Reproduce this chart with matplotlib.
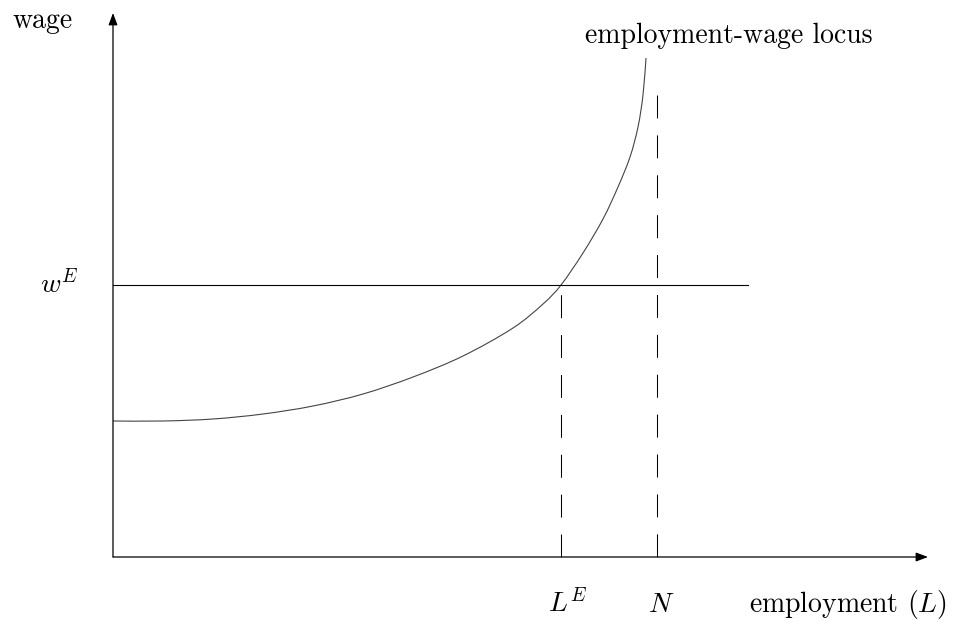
import matplotlib
matplotlib.use('Agg')
import matplotlib.pyplot as plt
from matplotlib.path import Path
from matplotlib.patches import PathPatch

plt.rcParams['mathtext.fontset'] = 'cm'

# employment-wage locus (employment, wage)
locus_L = [0.0, 0.5, 1.0, 1.5, 2.0, 2.5, 3.0, 3.5, 4.0, 4.3,
           4.48, 4.7, 4.9, 5.05, 5.17, 5.25, 5.30, 5.33]
locus_w = [1.36, 1.36, 1.38, 1.43, 1.51, 1.63, 1.80, 2.01, 2.29, 2.53,
           2.72, 3.04, 3.38, 3.70, 4.00, 4.30, 4.62, 4.99]

w_E = 2.72      # equilibrium wage
L_E = 4.48      # equilibrium employment
N = 5.44        # labour force
N_top = 4.62
wage_line_end = 6.35
x_max = 8.15
y_max = 5.44

fig = plt.figure(figsize=(9.56, 6.24), dpi=100)
ax = fig.add_axes([0, 0, 1, 1])
ax.set_xlim(-1.13, 8.43)
ax.set_ylim(-0.67, 5.57)
ax.axis('off')

# axes with arrows
arrow = dict(arrowstyle='-|>,head_length=0.8,head_width=0.3', color='black',
             lw=0.9, mutation_scale=9, shrinkA=0, shrinkB=0)
ax.annotate('', xy=(x_max, 0), xytext=(0, 0), arrowprops=arrow)
ax.annotate('', xy=(0, y_max), xytext=(0, 0), arrowprops=arrow)

# smooth bezier path through the read points
pts = list(zip(locus_L, locus_w))
verts = [pts[0]]
codes = [Path.MOVETO]
for i in range(len(pts) - 1):
    p_prev = pts[max(i - 1, 0)]
    p0, p1 = pts[i], pts[i + 1]
    p_next = pts[min(i + 2, len(pts) - 1)]
    c1 = (p0[0] + (p1[0] - p_prev[0]) / 6, p0[1] + (p1[1] - p_prev[1]) / 6)
    c2 = (p1[0] - (p_next[0] - p0[0]) / 6, p1[1] - (p_next[1] - p0[1]) / 6)
    verts += [c1, c2, p1]
    codes += [Path.CURVE4] * 3
ax.add_patch(PathPatch(Path(verts, codes), fill=False, edgecolor='#444444', lw=0.8))

ax.plot([0, wage_line_end], [w_E, w_E], color='black', lw=0.8)
ax.plot([L_E, L_E], [0, w_E], color='black', lw=0.75, linestyle=(0, (22, 16.3)))
ax.plot([N, N], [N_top, 0], color='black', lw=0.75, linestyle=(0, (22, 16.3)))

fs = 20
ax.text(-1.00, 5.29, 'wage', family='cmr10', fontsize=fs, va='baseline')
ax.text(4.72, 5.14, 'employment-wage locus', family='cmr10', fontsize=fs, va='baseline')
ax.text(-0.73, 2.64, r'$w^E$', fontsize=fs, va='baseline')
ax.text(4.35, -0.55, r'$L^E$', fontsize=fs, va='baseline')
ax.text(5.35, -0.55, r'$N$', fontsize=fs, va='baseline')
ax.text(6.36, -0.55, r'employment $(L)$', family='cmr10', fontsize=fs, va='baseline')

fig.savefig('out.png', dpi=100)
